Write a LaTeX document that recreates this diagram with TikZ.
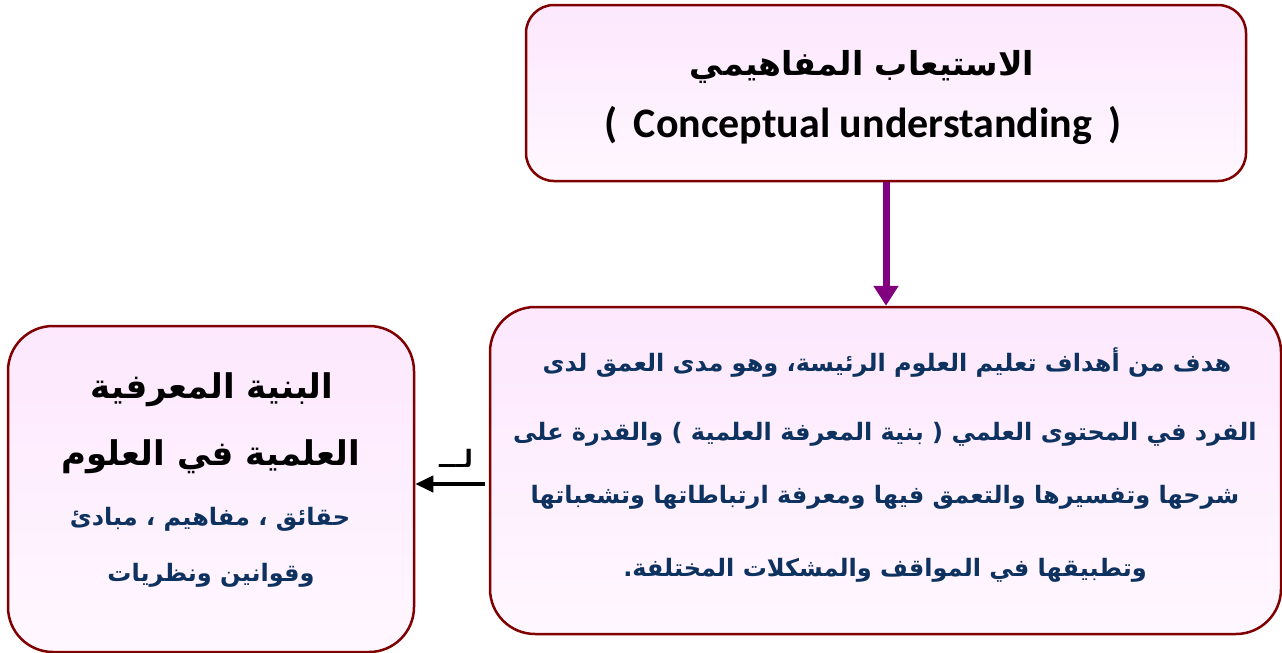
\documentclass[tikz,border=0pt]{standalone}
\usepackage{fontspec}
\setmainfont{Carlito}
\newfontfamily\arabicfont[Script=Arabic]{DejaVu Sans}
\TeXXeTstate=1
\usetikzlibrary{arrows.meta}
\definecolor{boxline}{RGB}{128,0,0}
\definecolor{boxtop}{RGB}{253,232,253}
\definecolor{boxbot}{RGB}{255,247,255}
\definecolor{navy}{RGB}{14,50,96}
\definecolor{arrowpurple}{RGB}{128,0,128}
\tikzset{
  box/.style={draw=boxline, line width=2.5pt, rounded corners=#1, top color=boxtop, bottom color=boxbot, inner sep=0pt},
  box/.default=40pt,
  line/.style={anchor=base, inner sep=0pt},
  artitle/.style={line, font=\arabicfont\bfseries\fontsize{34}{40}\selectfont},
  artext/.style={line, text=navy, font=\arabicfont\bfseries\fontsize{24}{28}\selectfont},
  downarrow/.style={draw=arrowpurple, line width=7pt, -{Triangle[length=20pt,width=24pt]}},
  leftarrow/.style={draw=black, line width=4pt, -{Triangle[length=18pt,width=16pt]}},
}
\begin{document}
\begin{tikzpicture}[x=1pt,y=-1pt]
\useasboundingbox (0,0) rectangle (1282,653);
% boxes
\node[box=28pt, minimum width=720pt, minimum height=176pt] (top) at (886,93) {};
\node[box=45pt, minimum width=791pt, minimum height=327pt] (right) at (885.5,470.5) {};
\node[box=45pt, minimum width=406pt, minimum height=326pt] (left) at (211,489) {};
% top box text
\node[line, font=\arabicfont\bfseries\fontsize{33}{40}\selectfont] (t1) at (862,75) {\beginR الاستيعاب المفاهيمي\endR};
\node[line, font=\bfseries\fontsize{42}{48}\selectfont] (t2) at (863,137) {(\, Conceptual understanding \,)};
% right box text
\node[artext] (r1) at (887,371) {\beginR هدف من أهداف تعليم العلوم الرئيسة، وهو مدى العمق لدى\endR};
\node[artext] (r2) at (885,440) {\beginR الفرد في المحتوى العلمي ( بنية المعرفة العلمية ) والقدرة على\endR};
\node[artext] (r3) at (885,503) {\beginR شرحها وتفسيرها والتعمق فيها ومعرفة ارتباطاتها وتشعباتها\endR};
\node[artext] (r4) at (885,576) {\beginR وتطبيقها في المواقف والمشكلات المختلفة.\endR};
% left box text
\node[artitle] (l1) at (212,398) {\beginR البنية المعرفية\endR};
\node[artitle] (l2) at (211,465) {\beginR العلمية في العلوم\endR};
\node[artext] (l3) at (210,525) {\beginR حقائق ، مفاهيم ، مبادئ\endR};
\node[artext] (l4) at (211,581) {\beginR وقوانين ونظريات\endR};
% connectors
\draw[downarrow] (top.south) -- (top.south |- right.north);
\draw[leftarrow] ([xshift=-4pt,yshift=-13.5pt]right.west) coordinate (s) -- (s -| left.east);
\node[line, font=\arabicfont\bfseries\fontsize{24}{28}\selectfont] (lbl) at (456,467) {\beginR لـــ\endR};
\end{tikzpicture}
\end{document}
